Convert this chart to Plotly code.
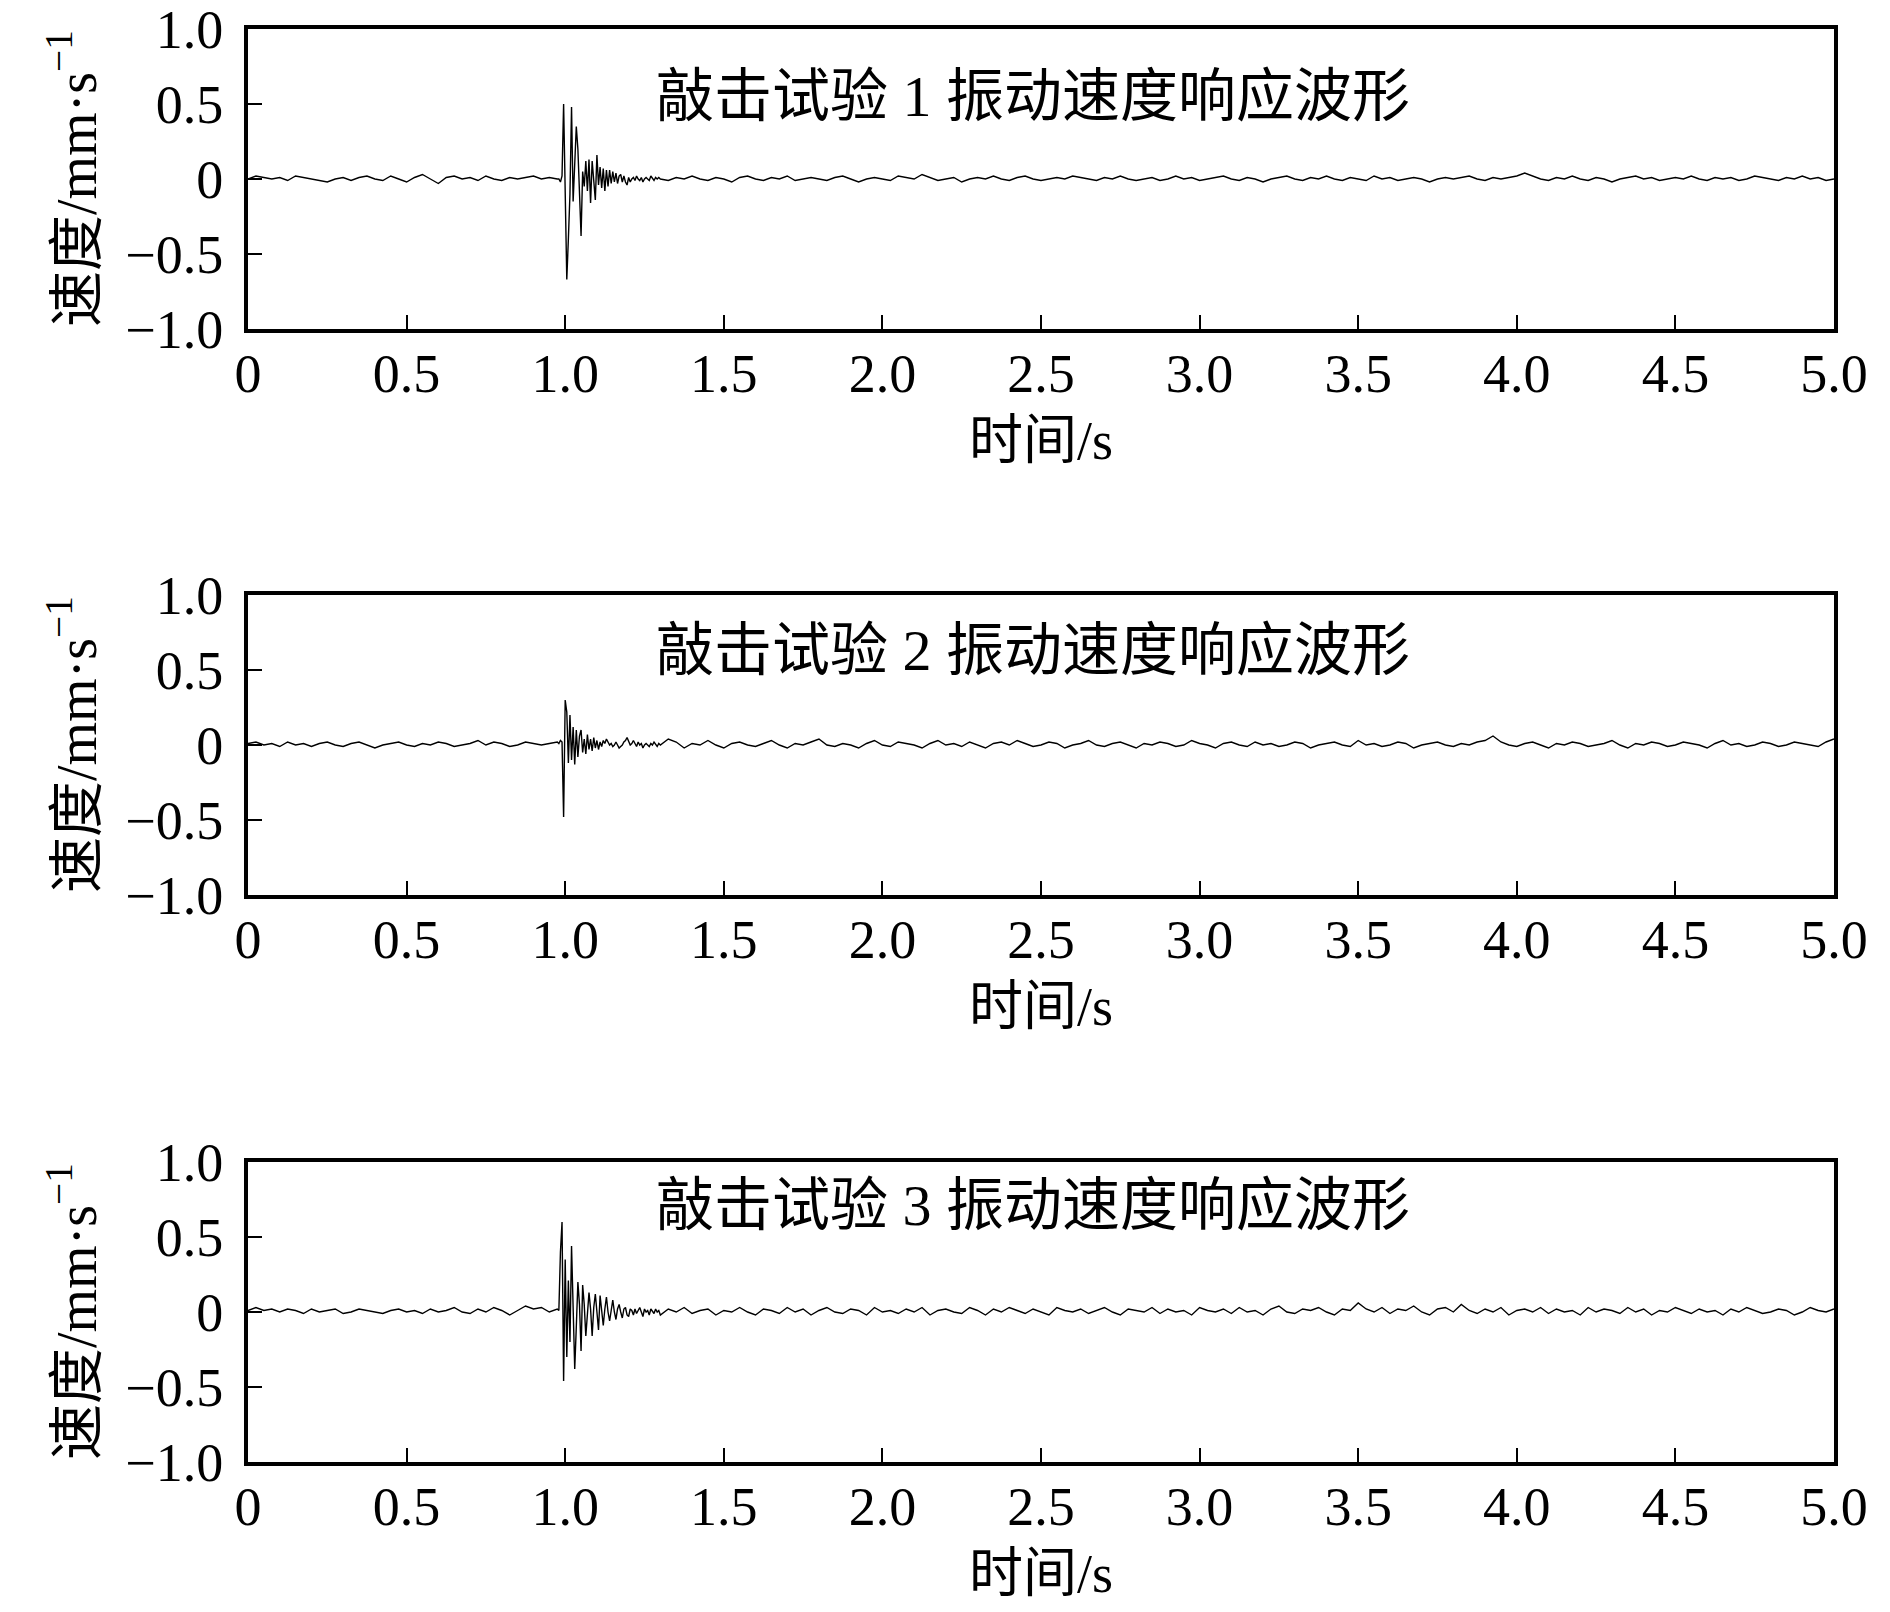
import numpy as np
import plotly.graph_objects as go

# sampling: coarse before/after the hit, fine around the hit
pre_t = np.round(np.arange(0, 0.976, 0.025), 3)
hit_t = np.round(np.arange(0.98, 1.2951, 0.005), 3)
post_t = np.round(np.arange(1.3, 5.0001, 0.025), 3)

# test 1
v1_pre = [0.00, 0.02, 0.01, 0.00, 0.01, -0.01, 0.02, 0.01, 0.00, -0.01,
          -0.02, 0.00, 0.01, -0.01, 0.01, 0.02, 0.00, -0.01, 0.02, 0.00,
          -0.02, 0.01, 0.03, 0.00, -0.03, 0.01, 0.02, 0.00, 0.01, -0.01,
          0.02, 0.00, -0.01, 0.01, 0.00, 0.01, 0.02, 0.00, 0.01, 0.00]
v1_hit = [0.00, -0.02, 0.02, 0.50, -0.20, -0.67, -0.40, -0.10, 0.48, -0.15,
          0.10, 0.35, 0.20, -0.05, -0.38, 0.05, -0.05, 0.12, -0.08, 0.13,
          -0.16, 0.12, -0.04, -0.14, 0.16, -0.04, 0.08, -0.06, 0.07, -0.08,
          0.06, -0.05, 0.06, -0.03, 0.05, -0.02, 0.04, -0.03, 0.02, 0.03,
          -0.02, 0.02, -0.02, -0.04, 0.01, -0.02, 0.00, 0.01, -0.01, 0.02,
          0.00, -0.01, 0.01, -0.02, 0.00, 0.01, 0.00, -0.01, 0.02, 0.00,
          -0.01, 0.01, 0.00, 0.01]
v1_post = [0.00, -0.01, 0.01, 0.00, 0.02, 0.00, -0.01, 0.01, 0.00, -0.02,
           0.01, 0.02, 0.00, -0.01, 0.01, 0.00, 0.02, -0.01, 0.00, 0.01,
           0.00, -0.01, 0.01, 0.02, 0.00, -0.02, 0.00, 0.01, 0.00, -0.01,
           0.02, 0.01, 0.00, 0.03, 0.01, -0.01, 0.00, 0.01, -0.02, 0.00,
           0.01, 0.00, 0.02, 0.00, -0.01, 0.01, 0.02, 0.00, -0.01, 0.00,
           0.01, 0.00, 0.02, 0.01, 0.00, -0.01, 0.01, 0.00, 0.02, 0.00,
           -0.01, 0.00, 0.01, -0.01, 0.00, 0.02, 0.00, 0.01, -0.01, 0.00,
           0.01, 0.02, 0.00, -0.01, 0.01, 0.00, -0.02, 0.00, 0.01, 0.02,
           0.00, -0.01, 0.01, 0.00, 0.02, 0.00, -0.01, 0.01, 0.00, -0.01,
           0.02, 0.00, 0.01, -0.01, 0.00, 0.01, 0.00, -0.02, 0.00, 0.01,
           0.00, 0.01, 0.02, 0.00, -0.01, 0.01, 0.00, 0.01, 0.02, 0.04,
           0.02, 0.00, -0.01, 0.01, 0.00, 0.02, 0.00, -0.01, 0.01, 0.00,
           -0.02, 0.00, 0.01, 0.02, 0.00, 0.01, -0.01, 0.00, 0.01, 0.00,
           0.02, 0.00, -0.01, 0.01, 0.00, 0.01, -0.01, 0.00, 0.02, 0.01,
           0.00, -0.01, 0.01, 0.00, 0.02, 0.00, 0.01, -0.01, 0.00]

# test 2
v2_pre = [0.01, 0.02, 0.00, 0.01, -0.01, 0.02, 0.00, 0.01, -0.01, 0.01,
          0.02, 0.00, -0.01, 0.01, 0.02, 0.00, -0.02, 0.00, 0.01, 0.02,
          0.00, -0.01, 0.01, 0.00, 0.02, 0.01, -0.01, 0.00, 0.01, 0.03,
          0.00, 0.02, 0.01, -0.01, 0.00, 0.02, 0.01, 0.00, 0.01, 0.02]
v2_hit = [0.01, 0.03, 0.02, -0.48, 0.30, 0.22, -0.12, 0.20, -0.10, 0.12,
          -0.13, 0.10, -0.08, 0.06, 0.10, -0.05, 0.04, -0.06, 0.07, -0.03,
          0.04, -0.04, 0.05, -0.02, 0.03, -0.03, 0.02, -0.01, 0.03, 0.01,
          0.04, 0.02, 0.00, 0.01, -0.01, 0.00, 0.02, 0.00, -0.02, -0.01,
          0.00, 0.02, 0.03, 0.05, 0.02, 0.00, 0.01, 0.03, 0.01, -0.01,
          0.02, 0.00, 0.01, -0.02, 0.00, 0.01, 0.00, -0.01, 0.01, 0.00,
          0.02, 0.00, -0.01, 0.01]
v2_post = [0.00, 0.04, 0.02, -0.02, 0.01, 0.00, 0.03, 0.00, -0.02, 0.01,
           0.02, 0.00, -0.01, 0.01, 0.03, 0.00, -0.02, 0.01, 0.00, 0.02,
           0.04, 0.00, -0.01, 0.01, 0.00, -0.02, 0.01, 0.03, 0.00, -0.01,
           0.02, 0.01, 0.00, -0.02, 0.01, 0.03, 0.00, 0.01, -0.01, 0.02,
           0.00, -0.02, 0.01, 0.02, 0.00, 0.03, 0.01, -0.01, 0.00, 0.02,
           0.01, -0.02, 0.00, 0.01, 0.03, 0.00, -0.01, 0.01, 0.02, 0.00,
           -0.02, 0.01, 0.00, 0.02, 0.01, -0.01, 0.00, 0.03, 0.01, 0.00,
           -0.02, 0.01, 0.02, 0.00, -0.01, 0.02, 0.00, 0.01, -0.01, 0.00,
           0.02, 0.01, -0.02, 0.00, 0.01, 0.02, 0.00, -0.01, 0.03, 0.00,
           0.01, -0.01, 0.00, 0.02, 0.01, -0.02, 0.00, 0.01, 0.02, 0.00,
           -0.01, 0.01, 0.00, 0.02, 0.03, 0.06, 0.02, 0.00, -0.01, 0.01,
           0.02, 0.00, -0.02, 0.01, 0.00, 0.02, 0.01, -0.01, 0.00, 0.01,
           0.03, 0.00, -0.02, 0.01, 0.00, 0.02, 0.01, -0.01, 0.00, 0.02,
           0.01, 0.00, -0.02, 0.01, 0.03, 0.00, 0.01, -0.01, 0.00, 0.02,
           0.01, -0.01, 0.00, 0.02, 0.01, 0.00, -0.01, 0.02, 0.04]

# test 3
v3_pre = [0.01, 0.03, 0.01, 0.02, 0.00, 0.02, 0.01, -0.01, 0.02, 0.00,
          0.01, 0.02, -0.01, 0.00, 0.02, 0.01, 0.00, -0.01, 0.01, 0.02,
          0.00, 0.01, -0.01, 0.02, 0.00, 0.01, 0.03, 0.00, -0.01, 0.02,
          0.00, 0.03, 0.01, -0.02, 0.01, 0.04, 0.02, 0.03, 0.00, 0.02]
v3_hit = [0.01, 0.40, 0.60, -0.46, 0.35, -0.30, 0.21, -0.20, 0.44, 0.05,
          -0.38, -0.10, 0.20, 0.05, -0.26, 0.18, 0.05, -0.16, 0.00, 0.13,
          0.02, -0.16, 0.03, 0.12, 0.00, -0.12, 0.11, 0.00, -0.09, 0.02,
          0.10, 0.00, -0.06, 0.01, 0.08, 0.00, -0.05, 0.02, 0.05, 0.00,
          -0.04, 0.02, 0.03, -0.02, -0.03, 0.02, 0.01, -0.02, 0.02, -0.01,
          0.01, 0.03, 0.00, -0.03, 0.02, 0.00, 0.01, -0.02, 0.02, 0.00,
          -0.01, 0.02, 0.00, 0.01]
v3_post = [-0.02, 0.02, 0.00, 0.03, -0.01, 0.01, 0.02, -0.02, 0.01, 0.00,
           0.03, 0.00, -0.02, 0.02, 0.01, -0.01, 0.03, 0.00, 0.02, -0.02,
           0.01, 0.03, 0.00, -0.01, 0.02, 0.01, -0.02, 0.03, 0.00, 0.01,
           -0.01, 0.02, 0.00, 0.03, -0.02, 0.01, 0.02, 0.00, -0.01, 0.03,
           0.01, -0.02, 0.02, 0.00, 0.03, 0.01, -0.01, 0.02, 0.00, -0.02,
           0.03, 0.01, 0.00, 0.02, -0.01, 0.01, 0.03, 0.00, -0.02, 0.02,
           0.01, 0.00, 0.03, -0.01, 0.02, 0.00, 0.01, -0.02, 0.03, 0.01,
           0.00, 0.02, -0.01, 0.03, 0.00, 0.01, -0.02, 0.02, 0.04, 0.00,
           -0.01, 0.02, 0.01, 0.03, 0.00, -0.02, 0.02, 0.01, 0.06, 0.02,
           0.00, 0.03, -0.01, 0.02, 0.01, 0.04, 0.00, -0.02, 0.02, 0.03,
           0.00, 0.05, 0.01, -0.01, 0.02, 0.00, 0.03, -0.02, 0.01, 0.02,
           0.00, 0.03, -0.01, 0.02, 0.00, 0.01, -0.02, 0.03, 0.00, 0.02,
           0.01, -0.01, 0.03, 0.00, 0.02, -0.02, 0.01, 0.00, 0.03, 0.01,
           -0.01, 0.02, 0.00, 0.01, -0.02, 0.02, 0.00, 0.03, 0.01, -0.01,
           0.00, 0.02, 0.01, -0.02, 0.00, 0.03, 0.01, 0.00, 0.02]

titles = ["敲击试验 1 振动速度响应波形", "敲击试验 2 振动速度响应波形", "敲击试验 3 振动速度响应波形"]
title_y = [0.55, 0.63, 0.71]
series = [(v1_pre, v1_hit, v1_post), (v2_pre, v2_hit, v2_post), (v3_pre, v3_hit, v3_post)]

x_ticks = [0, 0.5, 1.0, 1.5, 2.0, 2.5, 3.0, 3.5, 4.0, 4.5, 5.0]
x_labels = ["0", "0.5", "1.0", "1.5", "2.0", "2.5", "3.0", "3.5", "4.0", "4.5", "5.0"]
y_ticks = [-1.0, -0.5, 0, 0.5, 1.0]
y_labels = ["\u22121.0", "\u22120.5", "0", "0.5", "1.0"]

# page geometry (px, as seen on screen); the page body adds an 8 px offset
W, H = 1890, 1612
OFF = 8
ML, MR, MT, MB = 0, 64, 21, 158
PW, PH = W - ML - MR, H - MT - MB
x_dom = [(248 - OFF - ML) / PW, (1834 - OFF - ML) / PW]
panel_px = [(29, 329), (595, 895), (1162, 1462)]


def py(px):
    # screen pixel row -> paper y
    return (H - MB - (px - OFF)) / PH


def px_x(px):
    return (px - OFF - ML) / PW


font = "Liberation Serif, Noto Sans CJK SC"
fig = go.Figure()
layout = dict(width=W, height=H, margin=dict(l=ML, r=MR, t=MT, b=MB, pad=0, autoexpand=False),
              paper_bgcolor="white", plot_bgcolor="white", showlegend=False,
              font=dict(family=font, size=54, color="black"))
annotations = []

for i, (pre, hit, post) in enumerate(series):
    n = "" if i == 0 else str(i + 1)
    t = np.concatenate([pre_t, hit_t, post_t])
    v = np.concatenate([pre, hit, post])
    fig.add_trace(go.Scatter(x=t, y=v, mode="lines", xaxis="x" + n, yaxis="y" + n,
                             line=dict(color="black", width=1.4)))
    top, bot = panel_px[i]
    layout["xaxis" + n] = dict(domain=x_dom, anchor="y" + n, range=[0, 5],
                               tickvals=x_ticks, ticktext=x_labels,
                               ticks="inside", ticklen=14, tickwidth=2, tickcolor="black",
                               showline=True, mirror=True, linewidth=4, linecolor="black",
                               showgrid=False, zeroline=False, ticklabelstandoff=-6,
                               ticklabeloverflow="allow", automargin=False,
                               tickfont=dict(family=font, size=54))
    layout["yaxis" + n] = dict(domain=[py(bot), py(top)], anchor="x" + n, range=[-1, 1],
                               tickvals=y_ticks, ticktext=y_labels,
                               ticks="inside", ticklen=14, tickwidth=2, tickcolor="black",
                               showline=True, mirror=True, linewidth=4, linecolor="black",
                               showgrid=False, zeroline=False, ticklabelstandoff=10,
                               ticklabeloverflow="allow", automargin=False,
                               tickfont=dict(family=font, size=54))
    annotations.append(dict(text=titles[i], x=2.475, y=title_y[i], xref="x" + n, yref="y" + n,
                            xanchor="center", yanchor="middle",
                            showarrow=False, font=dict(family=font, size=58)))
    annotations.append(dict(text="时间/s", x=0.5 * (x_dom[0] + x_dom[1]), y=py(bot + 112),
                            xref="paper", yref="paper", xanchor="center", yanchor="middle",
                            showarrow=False, font=dict(family=font, size=54)))
    annotations.append(dict(text="速度/mm·s<sup>\u22121</sup>", x=px_x(72), y=py((top + bot) / 2),
                            xref="paper", yref="paper", xanchor="center", yanchor="middle",
                            showarrow=False, textangle=-90,
                            font=dict(family=font, size=56)))

layout["annotations"] = annotations
fig.update_layout(**layout)
fig.write_html("out.html")
